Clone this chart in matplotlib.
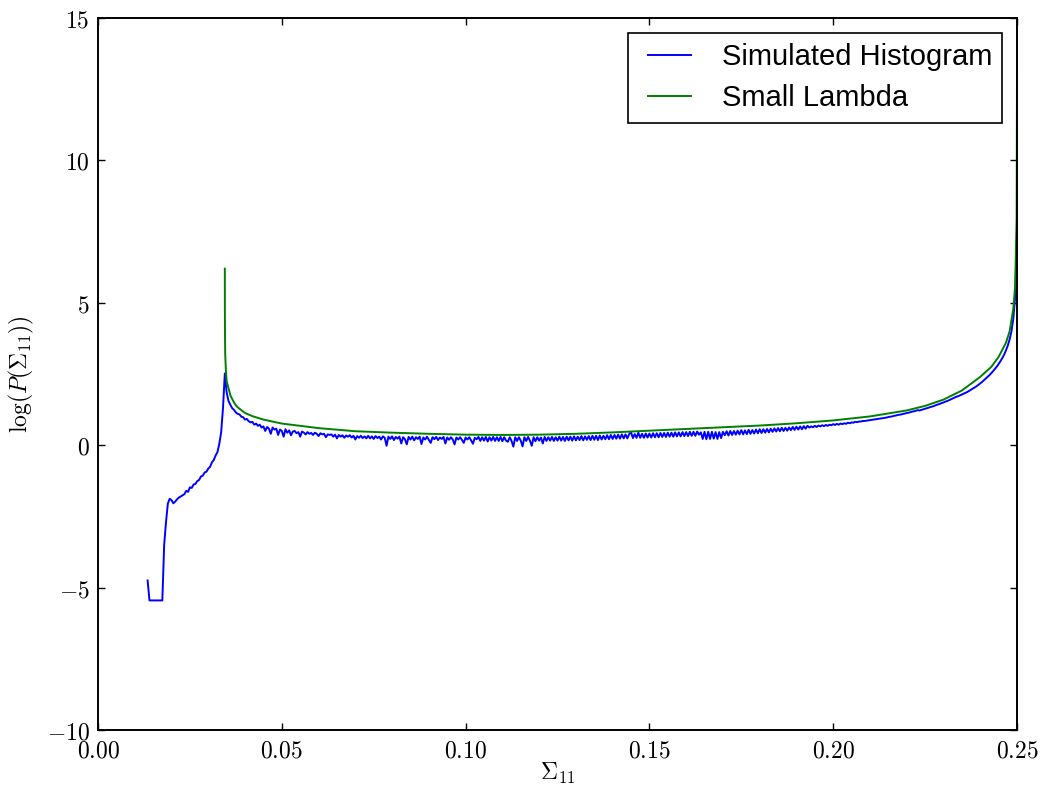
import numpy as np
import matplotlib
matplotlib.use("Agg")
import matplotlib.pyplot as plt
from matplotlib.ticker import FixedLocator, FuncFormatter
from matplotlib.legend_handler import HandlerLine2D

plt.rcParams['mathtext.fontset'] = 'cm'

# ---- data ----
# Simulated histogram: bin grid start/step and values
hist_x_start = 0.0135
hist_x_step = 0.0005
hist_y = [
    -4.75, -5.45, -5.45, -5.45, -5.45, -5.45, -5.45, -5.45, -5.45, -3.5,
    -2.7, -2.05, -1.88, -1.93, -2.04, -1.98, -1.9, -1.84, -1.8, -1.76,
    -1.72, -1.6, -1.64, -1.48, -1.5, -1.38, -1.36, -1.26, -1.22, -1.1,
    -1.07, -0.96, -0.93, -0.82, -0.76, -0.6, -0.52, -0.36, -0.24, 0.05,
    0.45, 1.3, 2.52, 1.85, 1.55, 1.42, 1.3, 1.24, 1.15, 1.1,
    1.08, 1.0, 0.98, 0.9, 0.92, 0.84, 0.8, 0.82, 0.72, 0.76,
    0.68, 0.72, 0.62, 0.66, 0.5, 0.64, 0.58, 0.4, 0.62, 0.55,
    0.58, 0.36, 0.55, 0.5, 0.3, 0.56, 0.44, 0.52, 0.35, 0.48,
    0.5, 0.42, 0.46, 0.3, 0.48, 0.44, 0.38, 0.46, 0.4, 0.43,
    0.36, 0.44, 0.4, 0.32, 0.42, 0.38, 0.4, 0.28, 0.38, 0.36,
    0.38, 0.3, 0.37, 0.24, 0.36, 0.3, 0.35, 0.26, 0.34, 0.3,
    0.35, 0.27, 0.33, 0.2, 0.32, 0.26, 0.33, 0.25, 0.31, 0.24,
    0.33, 0.24, 0.31, 0.22, 0.32, 0.25, 0.3, 0.2, 0.31, 0.26,
    -0.02, 0.3, 0.22, 0.31, 0.18, 0.29, 0.23, 0.3, 0.06, 0.28,
    0.21, 0.03, 0.29, 0.2, 0.3, 0.17, 0.28, 0.22, 0.3, 0.04,
    0.27, 0.2, 0.3, 0.19, 0.08, 0.28, 0.21, 0.29, 0.18, 0.27,
    0.22, 0.29, 0.06, 0.27, 0.19, 0.28, 0.2, 0.03, 0.27, 0.2,
    0.28, 0.19, 0.08, 0.27, 0.2, 0.28, 0.17, 0.05, 0.26, 0.21,
    0.29, 0.15, 0.28, 0.16, 0.29, 0.13, 0.28, 0.16, 0.29, 0.15,
    0.28, 0.15, 0.29, 0.14, 0.28, 0.16, 0.12, 0.28, 0.15, -0.05,
    0.28, 0.15, 0.28, 0.16, -0.04, 0.28, 0.15, 0.29, 0.16, -0.02,
    0.28, 0.14, 0.28, 0.16, 0.27, 0.06, 0.29, 0.15, 0.28, 0.16,
    0.29, 0.15, 0.28, 0.16, 0.3, 0.16, 0.29, 0.15, 0.3, 0.17,
    0.3, 0.16, 0.31, 0.17, 0.3, 0.18, 0.32, 0.17, 0.31, 0.19,
    0.32, 0.18, 0.33, 0.19, 0.33, 0.18, 0.34, 0.2, 0.33, 0.21,
    0.35, 0.21, 0.36, 0.22, 0.36, 0.23, 0.37, 0.23, 0.38, 0.24,
    0.38, 0.24, 0.39, 0.46, 0.25, 0.39, 0.26, 0.44, 0.26, 0.4,
    0.26, 0.41, 0.27, 0.41, 0.27, 0.42, 0.28, 0.42, 0.28, 0.43,
    0.29, 0.43, 0.29, 0.44, 0.3, 0.44, 0.3, 0.45, 0.31, 0.45,
    0.31, 0.46, 0.32, 0.46, 0.32, 0.47, 0.33, 0.47, 0.33, 0.48,
    0.37, 0.45, 0.22, 0.47, 0.21, 0.47, 0.22, 0.47, 0.23, 0.46,
    0.22, 0.46, 0.25, 0.47, 0.35, 0.49, 0.34, 0.5, 0.36, 0.5,
    0.37, 0.51, 0.38, 0.53, 0.38, 0.52, 0.39, 0.54, 0.4, 0.53,
    0.41, 0.55, 0.42, 0.56, 0.43, 0.56, 0.44, 0.57, 0.45, 0.58,
    0.47, 0.59, 0.48, 0.6, 0.49, 0.61, 0.5, 0.61, 0.51, 0.62,
    0.53, 0.64, 0.54, 0.65, 0.55, 0.66, 0.56, 0.67, 0.58, 0.68,
    0.62, 0.66, 0.63, 0.68, 0.64, 0.69, 0.66, 0.7, 0.67, 0.71,
    0.68, 0.72, 0.7, 0.74, 0.71, 0.75, 0.72, 0.76, 0.74, 0.77,
    0.75, 0.79, 0.77, 0.8, 0.79, 0.82, 0.81, 0.83, 0.83, 0.85,
    0.85, 0.86, 0.87, 0.88, 0.89, 0.9, 0.91, 0.92, 0.93, 0.94,
    0.95, 0.96, 0.97, 0.99, 1.0, 1.01, 1.03, 1.04, 1.06, 1.07,
    1.08, 1.1, 1.11, 1.13, 1.14, 1.16, 1.18, 1.19, 1.21, 1.23,
    1.22, 1.24, 1.26, 1.28, 1.3, 1.32, 1.34, 1.36, 1.38, 1.41,
    1.43, 1.45, 1.48, 1.5, 1.53, 1.55, 1.58, 1.61, 1.64, 1.67,
    1.7, 1.72, 1.75, 1.78, 1.81, 1.84, 1.87, 1.91, 1.95, 1.99,
    2.03, 2.07, 2.12, 2.17, 2.22, 2.28, 2.34, 2.4, 2.46, 2.53,
    2.6, 2.68, 2.76, 2.85, 2.95, 3.06, 3.18, 3.33, 3.5, 3.72,
    4.0, 4.45, 5.2, 7.5,
]
hist_x = hist_x_start + hist_x_step * np.arange(len(hist_y))

# Small-lambda curve
lam_x = [0.0345, 0.03452, 0.03455, 0.0346, 0.0348, 0.035, 0.036, 0.037, 0.0375,
         0.038, 0.040, 0.042, 0.045, 0.050, 0.055, 0.060, 0.070, 0.080, 0.090,
         0.100, 0.110, 0.120, 0.130, 0.140, 0.150, 0.160, 0.170, 0.180, 0.190,
         0.200, 0.210, 0.220, 0.225, 0.230, 0.235, 0.240, 0.243, 0.245, 0.247,
         0.248, 0.249, 0.2495, 0.2499, 0.25]
lam_y = [6.2, 4.6, 3.9, 3.2, 2.6, 2.25, 1.75, 1.5, 1.4,
         1.33, 1.13, 1.02, 0.9, 0.76, 0.68, 0.6, 0.49, 0.44, 0.40,
         0.37, 0.36, 0.37, 0.40, 0.45, 0.51, 0.57, 0.63, 0.69, 0.77,
         0.87, 1.01, 1.22, 1.38, 1.6, 1.92, 2.4, 2.75, 3.1, 3.6,
         4.0, 4.8, 5.6, 8.0, 13.0]

x_ticks = [0.00, 0.05, 0.10, 0.15, 0.20, 0.25]
y_ticks = [-10, -5, 0, 5, 10, 15]
series_labels = ["Simulated Histogram", "Small Lambda"]


class InsetLineHandler(HandlerLine2D):
    """Legend line that starts a little inside the handle box."""
    def get_xdata(self, legend, xdescent, ydescent, width, height, fontsize):
        inset = 0.33 * fontsize
        x = [-xdescent + inset, -xdescent + width]
        return x, x


# ---- figure ----
W, H = 1041, 785
fig = plt.figure(figsize=(W / 100, H / 100), dpi=100)
ax = fig.add_axes([98 / W, (H - 730) / H, (1017 - 98) / W, (730 - 18) / H])

ax.plot(hist_x, hist_y, color='#0000ff', lw=1.4, label=series_labels[0])
ax.plot(lam_x, lam_y, color='#008000', lw=1.4, label=series_labels[1])

ax.set_xlim(0, 0.25)
ax.set_ylim(-10, 15)
ax.xaxis.set_major_locator(FixedLocator(x_ticks))
ax.yaxis.set_major_locator(FixedLocator(y_ticks))
ax.xaxis.set_major_formatter(FuncFormatter(lambda v, p: r'$%.2f$' % v))
ax.yaxis.set_major_formatter(FuncFormatter(lambda v, p: r'$%d$' % v))
ax.tick_params(axis='both', which='major', direction='in', length=5,
               width=1, top=True, right=True, labelsize=17, pad=6,
               colors='black')
for s in ax.spines.values():
    s.set_linewidth(1.4)

ax.set_xlabel(r'$\Sigma_{11}$', fontsize=17, labelpad=-1)
ax.set_ylabel(r'$\log(P(\Sigma_{11}))$', fontsize=17, labelpad=8)

leg = ax.legend(loc='upper right', prop={'family': 'Liberation Sans', 'size': 21},
                fancybox=False, framealpha=1, edgecolor='black',
                borderaxespad=0.5, handlelength=1.8, handletextpad=1.05,
                borderpad=0.36, labelspacing=0.45,
                handler_map={plt.Line2D: InsetLineHandler()})
leg.get_frame().set_linewidth(1.2)

fig.savefig('out.png', dpi=100)
